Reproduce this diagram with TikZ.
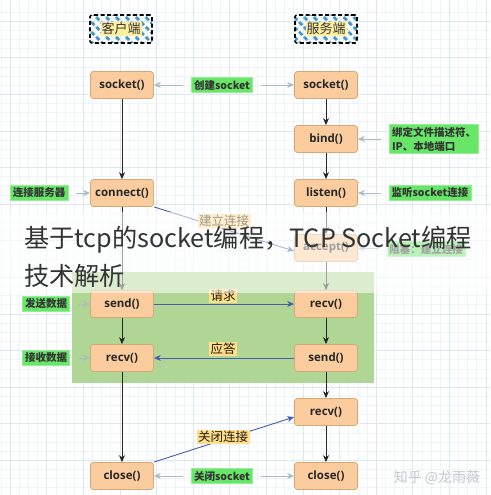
\documentclass[tikz,border=0pt]{standalone}
\usepackage{fontspec}
\setmainfont{Noto Sans CJK SC}
\newfontfamily\fnfont{Open Sans}
\usetikzlibrary{arrows.meta,patterns.meta}
\definecolor{nodefill}{RGB}{250,204,158}
\definecolor{nodedraw}{RGB}{214,168,116}
\definecolor{greenlab}{RGB}{104,230,104}
\definecolor{yellowlab}{RGB}{255,222,140}
\definecolor{greenreg}{RGB}{176,214,150}
\definecolor{bluearr}{RGB}{72,92,172}
\definecolor{grayarr}{RGB}{172,188,194}
\definecolor{gridmaj}{RGB}{220,234,240}
\definecolor{gridmin}{RGB}{238,245,248}
\definecolor{stripeblue}{RGB}{70,150,200}
\definecolor{hdryellow}{RGB}{255,240,160}
\tikzset{
  fn/.style={draw=nodedraw, fill=nodefill, rounded corners=3pt, minimum width=63pt, minimum height=27pt, line width=0.8pt, font=\fnfont\bfseries\fontsize{11.5}{13}\selectfont, text=black!85},
  glab/.style={fill=greenlab, draw=greenlab!70!white, inner sep=2.5pt, font=\bfseries\fontsize{10.5}{14}\selectfont, text=black!80},
  ylab/.style={fill=yellowlab, inner sep=1.5pt, font=\fontsize{12.5}{14}\selectfont, text=black!80!brown},
  hdr/.style={draw=black, line width=1.6pt, dash pattern=on 4pt off 2.5pt, rounded corners=2pt, minimum width=62pt, minimum height=28pt, fill=white, pattern={Lines[angle=-45,distance=7pt,line width=2.8pt]}, pattern color=stripeblue},
  hdrtxt/.style={fill=hdryellow, inner sep=1pt, font=\fontsize{13}{14}\selectfont, text=black!80},
  darr/.style={draw=black!85, line width=0.9pt, -{Stealth[length=7pt,width=6pt]}},
  barr/.style={draw=bluearr, line width=0.9pt, -{Stealth[length=7pt,width=6pt]}},
  garr/.style={draw=grayarr, line width=0.9pt, -{Stealth[length=7pt,width=6pt]}, shorten <=8pt},
}
\begin{document}
\begin{tikzpicture}[x=1pt,y=-1pt]
\useasboundingbox (0,0) rectangle (490,495);
\fill[white] (0,0) rectangle (490,495);
% grid
\foreach \k in {-1,...,53} {
  \draw[gridmin, line width=0.4pt] ({10+9.15*\k},0) -- ({10+9.15*\k},495);
  \draw[gridmin, line width=0.4pt] (0,{21+9.15*\k}) -- (490,{21+9.15*\k});
}
\foreach \k in {-1,...,13} {
  \draw[gridmaj, line width=0.6pt] ({10+36.6*\k},0) -- ({10+36.6*\k},495);
  \draw[gridmaj, line width=0.6pt] (0,{21+36.6*\k}) -- (490,{21+36.6*\k});
}
% green region
\fill[greenreg] (72,272) rectangle (374,383);
% headers
\node[hdr] (hc) at (121,29) {};
\node[hdrtxt] (hct) at (hc.center) {客户端};
\node[hdr] (hs) at (326,29) {};
\node[hdrtxt] (hst) at (hs.center) {服务端};
% function nodes
\node[fn] (sL) at (122,85) {socket()};
\node[fn] (sR) at (326,85) {socket()};
\node[fn] (bind) at (326,139) {bind()};
\node[fn] (listen) at (326,193) {listen()};
\node[fn] (conn) at (122,193) {connect()};
\node[fn] (acc) at (326,248) {accept()};
\node[fn] (sendL) at (122,304) {send()};
\node[fn] (recvR) at (326,304) {recv()};
\node[fn] (recvL) at (122,358) {recv()};
\node[fn] (sendR) at (326,358) {send()};
\node[fn] (recvR2) at (326,412) {recv()};
\node[fn] (closeL) at (122,476) {close()};
\node[fn] (closeR) at (326,476) {close()};
% green labels
\node[glab] (lcs) at (222,85) {创建socket};
\node[glab, align=left] (lbind) at (434,139) {绑定文件描述符、\\IP、本地端口};
\node[glab] (llisten) at (430,193) {监听socket连接};
\node[glab] (lconn) at (39,193) {连接服务器};
\node[glab] (lacc) at (426,249) {阻塞：建立连接};
\node[glab] (lsend) at (46,304) {发送数据};
\node[glab] (lrecv) at (46,358) {接收数据};
\node[glab] (lclose) at (222,476) {关闭socket};
% vertical flow
\draw[darr] (sL) -- (conn);
\draw[darr] (conn) -- (sendL);
\draw[darr] (sendL) -- (recvL);
\draw[darr] (recvL) -- (closeL);
\draw[darr] (sR) -- (bind);
\draw[darr] (bind) -- (listen);
\draw[darr] (listen) -- (acc);
\draw[darr] (acc) -- (recvR);
\draw[darr] (recvR) -- (sendR);
\draw[darr] (sendR) -- (recvR2);
\draw[darr] (recvR2) -- (closeR);
% label arrows
\draw[garr] (lcs) -- (sL);
\draw[garr] (lcs) -- (sR);
\draw[garr] (lbind) -- (bind);
\draw[garr] (llisten) -- (listen);
\draw[garr] (lconn) -- (conn);
\draw[garr] (lacc) -- (acc);
\draw[garr] (lsend) -- (sendL);
\draw[garr] (lrecv) -- (recvL);
\draw[garr] (lclose) -- (closeL);
\draw[garr] (lclose) -- (closeR);
% blue connectors
\draw[barr] (conn.south east) -- ([yshift=-3pt]acc.west);
\draw[barr] (sendL) -- (recvR);
\draw[barr] (sendR) -- (recvL);
\draw[barr] (closeL.north east) -- ([yshift=-5pt]recvR2.west);
\node[ylab] (yconn) at (224,221) {建立连接};
\node[ylab] (yreq) at (223,296) {请求};
\node[ylab] (yresp) at (223,349) {应答};
\node[ylab] (yclose) at (223,437) {关闭连接};
% overlay band and title
\fill[white, opacity=0.55] (0,212) rectangle (490,293);
\node[anchor=base west, inner sep=0pt, text=black!80, font=\fontsize{25.2}{36}\selectfont] (t1) at (24,247) {基于tcp的socket编程，TCP Socket编程};
\node[anchor=base west, inner sep=0pt, text=black!80, font=\fontsize{25.2}{36}\selectfont] (t2) at (24,285) {技术解析};
% watermark
\node[text=black!22, font=\fontsize{14}{16}\selectfont] (wm) at (437,478) {知乎 @龙雨薇};
\end{tikzpicture}
\end{document}
